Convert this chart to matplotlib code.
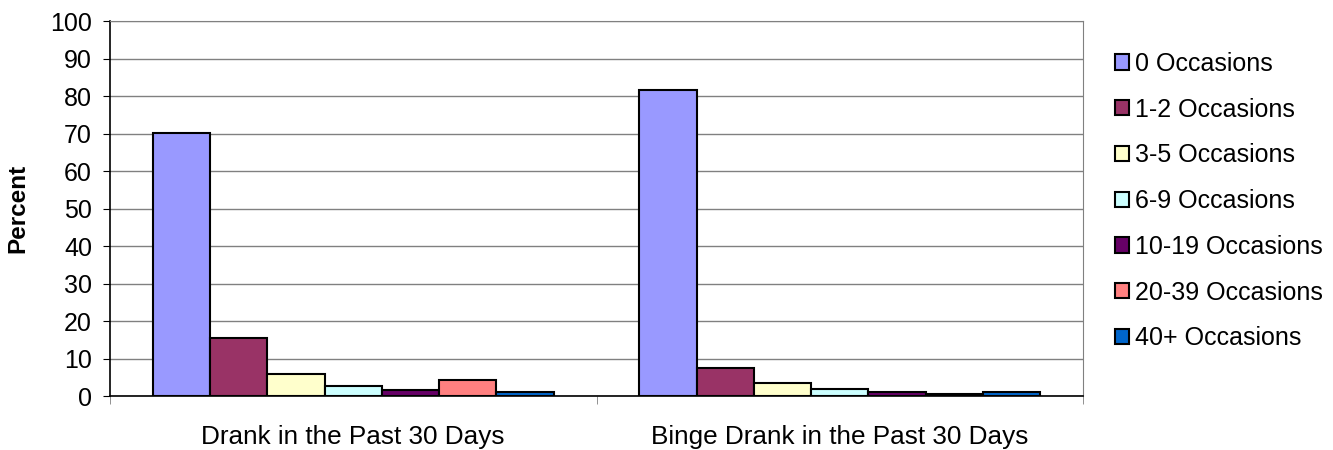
import matplotlib.pyplot as plt
import numpy as np

plt.rcParams['font.family'] = ['Liberation Sans', 'DejaVu Sans']

categories = ['Drank in the Past 30 Days', 'Binge Drank in the Past 30 Days']
series = ['0 Occasions', '1-2 Occasions', '3-5 Occasions', '6-9 Occasions',
          '10-19 Occasions', '20-39 Occasions', '40+ Occasions']
values = [
    [70.2, 81.6],   # 0
    [15.4, 7.4],    # 1-2
    [5.8, 3.6],     # 3-5
    [2.6, 2.0],     # 6-9
    [1.5, 1.0],     # 10-19
    [4.3, 0.5],     # 20-39
    [1.1, 1.0],     # 40+
]
colors = ['#9999FF', '#993366', '#FFFFCC', '#CCFFFF', '#660066', '#FF8080', '#0066CC']

fs = 18

fig = plt.figure(figsize=(13.33, 4.5), dpi=100)
ax = fig.add_axes([0.0825, 0.12, 0.73, 0.833])

n = len(series)
gap = 1.5  # Excel style gap width
bw = 1.0 / (n + gap)
x = np.arange(len(categories))
for i in range(n):
    ax.bar(x - 0.5 + (gap / 2 + i + 0.5) * bw, values[i], width=bw, color=colors[i],
           edgecolor='black', linewidth=1.5, label=series[i], zorder=3)

ax.set_xlim(-0.5, len(categories) - 0.5)
ax.set_ylim(0, 100)
ax.set_yticks(np.arange(0, 101, 10))
ax.yaxis.grid(True, color='#808080', linewidth=1, zorder=0)
ax.set_xticks(x)
ax.set_xticklabels(categories)
ax.tick_params(axis='x', length=0, labelsize=18.8, pad=21)
ax.set_xticks(np.arange(-0.5, len(categories), 1), minor=True)
ax.tick_params(axis='x', which='minor', length=6, color='#808080')
ax.tick_params(axis='y', labelsize=fs, length=5, pad=8, color='black')
ax.set_ylabel('Percent', fontsize=17.5, fontweight='bold', labelpad=15)

for s in ['top', 'right']:
    ax.spines[s].set_color('#808080')
ax.spines['left'].set_linewidth(1.2)
ax.spines['bottom'].set_linewidth(1.2)

leg = ax.legend(loc='center left', bbox_to_anchor=(1.02, 0.52), frameon=False,
                fontsize=fs, handlelength=0.55, handleheight=0.55,
                labelspacing=0.87, handletextpad=0.25, borderpad=0)

plt.savefig('out.png', dpi=100)
